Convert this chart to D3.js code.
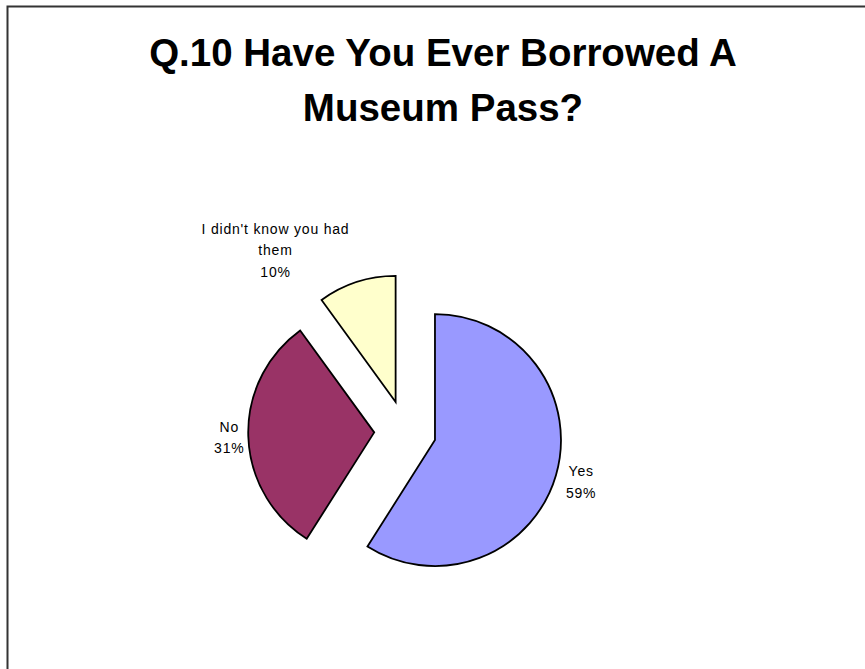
<!DOCTYPE html>
<html>
<head>
<meta charset="utf-8">
<script src="https://cdn.jsdelivr.net/npm/d3@7"></script>
<style>
  html, body { margin: 0; padding: 0; background: #fff; }
  svg { display: block; }
</style>
</head>
<body>
<svg id="chart" width="865" height="669"></svg>
<script>
// Survey answers for Q.10
const categories = ["Yes", "No", "I didn't know you had them"];
const values = [59, 31, 10];
const labelLines = [["Yes", "59%"], ["No", "31%"], ["I didn't know you had", "them", "10%"]];
const titleLines = ["Q.10 Have You Ever Borrowed A", "Museum Pass?"];

const colors = d3.scaleOrdinal()
  .domain(categories)
  .range(["#9999FF", "#993366", "#FFFFCC"]);

const svg = d3.select("#chart");
const W = 865;

// Chart-area frame (runs off the right and bottom edges)
svg.append("rect")
  .attr("x", 7.5).attr("y", 6.5)
  .attr("width", 920).attr("height", 720)
  .attr("fill", "#fff")
  .attr("stroke", "#333")
  .attr("stroke-width", 2);

// Title
svg.append("text")
  .attr("text-anchor", "middle")
  .attr("font-family", "'Liberation Sans', Arial, sans-serif")
  .attr("font-weight", "bold")
  .attr("font-size", 38.5)
  .attr("fill", "#000")
  .selectAll("tspan")
  .data(titleLines)
  .join("tspan")
  .attr("x", 443)
  .attr("y", (d, i) => 66 + i * 55)
  .text(d => d);

// Exploded pie
const cx = 405.2, cy = 431.4, radius = 126, explode = 31;

const pie = d3.pie().sort(null).value(d => d.value).startAngle(0).endAngle(2 * Math.PI);
const arcs = pie(categories.map((c, i) => ({ cat: c, value: values[i], lines: labelLines[i] })));
const arc = d3.arc().innerRadius(0).outerRadius(radius);

const g = svg.append("g").attr("transform", `translate(${cx},${cy})`);

function dirOf(a) {
  const m = (a.startAngle + a.endAngle) / 2;
  return [Math.sin(m), -Math.cos(m)];
}

g.selectAll("path.slice")
  .data(arcs)
  .join("path")
  .attr("class", "slice")
  .attr("transform", d => {
    const [dx, dy] = dirOf(d);
    return `translate(${dx * explode},${dy * explode})`;
  })
  .attr("d", arc)
  .attr("fill", d => colors(d.data.cat))
  .attr("stroke", "#000")
  .attr("stroke-width", 1.8)
  .attr("stroke-linejoin", "miter");

// Data labels: placed outward along each slice's mid-angle, then shifted clear of neighbours
const labelShift = { "Yes": [6, 1], "No": [1, 0.5], "I didn't know you had them": [-75, -13] };
const lineH = 21.5;

const labels = g.selectAll("text.lbl")
  .data(arcs)
  .join("text")
  .attr("class", "lbl")
  .attr("text-anchor", "middle")
  .attr("font-family", "'Liberation Sans', Arial, sans-serif")
  .attr("font-size", 14)
  .attr("letter-spacing", 0.8)
  .attr("fill", "#000");

labels.each(function(d) {
  const [dx, dy] = dirOf(d);
  const rr = explode + radius + 20;
  const s = labelShift[d.data.cat];
  const x = dx * rr + s[0];
  const y = dy * rr + s[1];
  const n = d.data.lines.length;
  d3.select(this).selectAll("tspan")
    .data(d.data.lines)
    .join("tspan")
    .attr("x", x)
    .attr("y", (t, i) => y - (n - 1) * lineH / 2 + i * lineH + 5)
    .text(t => t);
});
</script>
</body>
</html>
